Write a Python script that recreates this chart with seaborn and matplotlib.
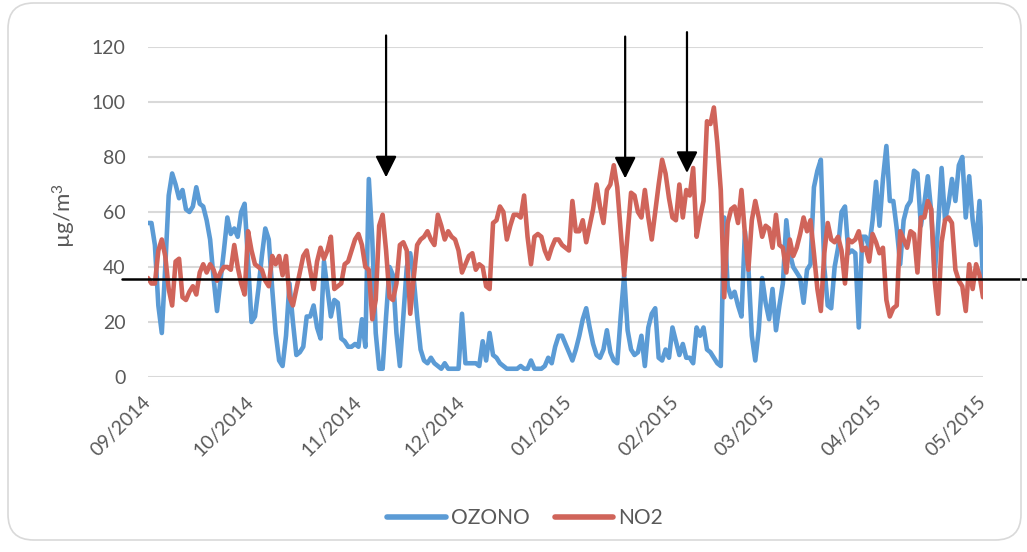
import numpy as np
import pandas as pd
import matplotlib
matplotlib.use("Agg")
import matplotlib.pyplot as plt
import matplotlib.transforms as mtransforms
from matplotlib.patches import FancyBboxPatch
from matplotlib.lines import Line2D
import seaborn as sns

# ---------------- data ----------------
start_date = "2014-09-01"
series_names = ["OZONO", "NO2"]
series_colors = ["#5B9BD5", "#D0645A"]

ozono = [
    56, 56, 48, 26, 16, 40, 66, 74, 70, 65,
    68, 61, 60, 62, 69, 63, 62, 57, 50, 36,
    24, 35, 46, 58, 52, 54, 51, 60, 63, 42,
    20, 22, 32, 44, 54, 50, 32, 16, 6, 4,
    15, 34, 20, 8, 9, 11, 22, 22, 26, 18,
    14, 42, 32, 22, 28, 27, 14, 13, 11, 11,
    12, 11, 21, 11, 72, 50, 16, 3, 3, 22,
    40, 37, 16, 4, 22, 40, 45, 36, 22, 10,
    6, 5, 7, 5, 4, 3, 5, 3, 3, 3,
    3, 23, 5, 5, 5, 5, 4, 13, 6, 16,
    8, 7, 5, 4, 3, 3, 3, 3, 4, 3,
    3, 6, 3, 3, 3, 4, 7, 5, 11, 15,
    15, 12, 9, 6, 10, 15, 21, 25, 18, 12,
    8, 7, 10, 17, 9, 6, 5, 22, 37, 17,
    10, 8, 9, 15, 4, 18, 23, 25, 7, 6,
    10, 7, 18, 13, 8, 12, 7, 7, 5, 18,
    15, 18, 10, 9, 7, 5, 4, 58, 33, 29,
    31, 26, 22, 53, 40, 15, 6, 17, 36, 27,
    21, 32, 17, 26, 34, 57, 45, 40, 38, 36,
    27, 39, 41, 69, 75, 79, 40, 26, 25, 40,
    47, 60, 62, 45, 46, 45, 18, 51, 51, 47,
    57, 71, 55, 72, 84, 64, 64, 54, 41, 57,
    62, 64, 75, 74, 55, 63, 73, 60, 37, 55,
    76, 57, 63, 72, 64, 77, 80, 58, 73, 57,
    48, 64, 35,
]

no2 = [
    36, 34, 34, 46, 50, 44, 32, 26, 42, 43,
    29, 28, 31, 33, 30, 38, 41, 38, 41, 39,
    35, 38, 40, 40, 39, 48, 40, 34, 30, 53,
    46, 41, 40, 39, 35, 33, 44, 41, 44, 37,
    44, 29, 26, 32, 38, 44, 46, 39, 32, 42,
    47, 43, 46, 51, 32, 33, 34, 41, 42, 46,
    50, 52, 48, 40, 39, 21, 28, 55, 59, 46,
    29, 28, 34, 48, 49, 46, 23, 36, 48, 50,
    51, 53, 50, 48, 59, 55, 50, 53, 51, 50,
    46, 38, 41, 44, 45, 39, 41, 40, 33, 32,
    56, 57, 62, 60, 50, 55, 59, 59, 58, 66,
    51, 41, 51, 52, 51, 46, 43, 47, 50, 50,
    48, 47, 46, 64, 53, 53, 57, 49, 55, 61,
    70, 62, 56, 68, 70, 77, 69, 53, 37, 52,
    67, 66, 60, 58, 68, 58, 50, 60, 70, 79,
    74, 65, 58, 57, 70, 58, 68, 66, 76, 51,
    58, 64, 93, 92, 98, 85, 68, 29, 56, 61,
    62, 56, 68, 52, 39, 57, 64, 58, 51, 55,
    54, 47, 59, 48, 47, 38, 50, 44, 47, 52,
    58, 53, 57, 45, 32, 24, 45, 56, 50, 49,
    51, 46, 34, 50, 49, 50, 53, 46, 47, 42,
    52, 49, 45, 47, 28, 22, 25, 26, 53, 50,
    47, 53, 52, 38, 58, 58, 64, 61, 35, 23,
    49, 57, 58, 56, 39, 35, 33, 24, 41, 32,
    41, 37, 29,
]

threshold = 35.8
arrow_dates = ["2014-11-09", "2015-01-17 07:00", "2015-02-04 05:00"]
arrow_tops = [124.2, 123.8, 125.4]
arrow_tips = [72.6, 72.2, 74.2]

y_ticks = [0, 20, 40, 60, 80, 100, 120]
x_tick_dates = pd.date_range("2014-09-01", "2015-05-01", freq="MS")
x_tick_labels = [d.strftime("%m/%Y") for d in x_tick_dates]
y_label = "µg/m$^{3}$"

# ---------------- build frame ----------------
df = pd.concat([
    pd.DataFrame({"date": pd.date_range(start_date, periods=len(ozono), freq="D"),
                  "value": ozono, "series": series_names[0]}),
    pd.DataFrame({"date": pd.date_range(start_date, periods=len(no2), freq="D"),
                  "value": no2, "series": series_names[1]}),
])

# ---------------- style ----------------
sns.set_theme(style="white")
plt.rcParams["font.family"] = ["Lato", "DejaVu Sans"]
plt.rcParams["mathtext.fontset"] = "custom"
plt.rcParams["mathtext.rm"] = "Lato"
plt.rcParams["mathtext.it"] = "Lato"
plt.rcParams["mathtext.default"] = "regular"
text_color = "#595959"
grid_color = "#D9D9D9"
fs = 14

W, H, DPI = 1027, 552, 100
fig = plt.figure(figsize=(W / DPI, H / DPI), dpi=DPI)
fig.patch.set_facecolor("white")

# outer rounded chart border
border = FancyBboxPatch((8 / W, 12 / H), (1021 - 8) / W, (549 - 12) / H,
                        boxstyle="round,pad=0,rounding_size=0.025",
                        transform=fig.transFigure, facecolor="none",
                        edgecolor=grid_color, linewidth=1.2, zorder=0,
                        mutation_aspect=W / H)
fig.patches.append(border)

ax_left, ax_right, ax_top, ax_bottom = 148, 983, 47, 377
ax = fig.add_axes([ax_left / W, 1 - ax_bottom / H,
                   (ax_right - ax_left) / W, (ax_bottom - ax_top) / H])
ax.set_facecolor("none")

sns.lineplot(data=df, x="date", y="value", hue="series",
             hue_order=series_names, palette=series_colors,
             linewidth=3.3, ax=ax, legend=False,
             solid_joinstyle="round", solid_capstyle="round", zorder=3)

ax.set_xlim(pd.Timestamp("2014-09-01"), pd.Timestamp("2015-05-01"))
ax.set_ylim(0, 120)
ax.set_yticks(y_ticks)
ax.set_yticklabels([str(v) for v in y_ticks])
ax.set_xticks(x_tick_dates)
ax.set_xticklabels(x_tick_labels, rotation=45, ha="right", va="center",
                   rotation_mode="anchor")
offset = mtransforms.ScaledTranslation(3 / DPI, 0, fig.dpi_scale_trans)
for lbl in ax.get_xticklabels():
    lbl.set_transform(lbl.get_transform() + offset)

ax.tick_params(axis="both", length=0, labelsize=fs, labelcolor=text_color)
ax.tick_params(axis="y", pad=16)
ax.tick_params(axis="x", pad=16)
for s in ax.spines.values():
    s.set_visible(False)
ax.grid(False)
for v in y_ticks:
    ax.axhline(v, color=grid_color, linewidth=1.5, zorder=1)

ax.set_xlabel("")
ax.set_ylabel(y_label, fontsize=fs + 2, color=text_color)
ax.yaxis.set_label_coords((78 - ax_left) / (ax_right - ax_left), 0.49)

# threshold line extending beyond plot area
ax.axhline(threshold, xmin=(122 - ax_left) / (ax_right - ax_left),
           xmax=(1027 - ax_left) / (ax_right - ax_left),
           color="black", linewidth=1.8, clip_on=False, zorder=5)

# arrows
for d, top, tip in zip(arrow_dates, arrow_tops, arrow_tips):
    ax.annotate("", xy=(pd.Timestamp(d), tip), xytext=(pd.Timestamp(d), top),
                arrowprops=dict(arrowstyle="-|>,head_length=0.5,head_width=0.25",
                                color="black", lw=1.6, shrinkA=0, shrinkB=0,
                                mutation_scale=26),
                annotation_clip=False, zorder=6)

# legend
handles = [Line2D([0], [0], color=c, lw=4, solid_capstyle="round")
           for c in series_colors]
leg = fig.legend(handles, series_names, loc="center",
                 bbox_to_anchor=(525 / W, 1 - 518 / H), ncol=2, frameon=False,
                 fontsize=fs + 1, handlelength=2.8, handletextpad=0.25,
                 columnspacing=1.2)
for t in leg.get_texts():
    t.set_color(text_color)

fig.savefig("out.png", dpi=DPI, facecolor="white")
